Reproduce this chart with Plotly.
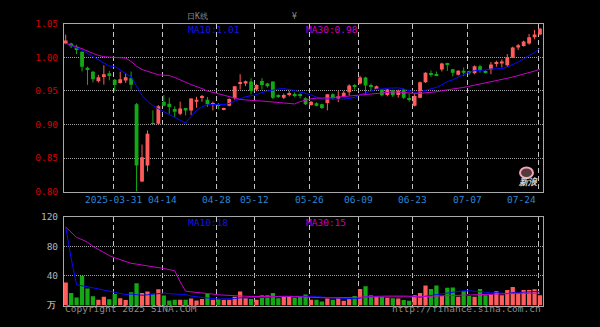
import numpy as np
import plotly.graph_objects as go

# ---------------- data ----------------
dates = [
    "2025-03-18", "2025-03-19", "2025-03-20", "2025-03-21", "2025-03-24", "2025-03-25",
    "2025-03-26", "2025-03-27", "2025-03-28", "2025-03-31",
    "2025-04-01", "2025-04-02", "2025-04-03", "2025-04-07", "2025-04-08", "2025-04-09",
    "2025-04-10", "2025-04-11", "2025-04-14", "2025-04-15", "2025-04-16", "2025-04-17",
    "2025-04-18", "2025-04-21", "2025-04-22", "2025-04-23", "2025-04-24", "2025-04-25",
    "2025-04-28", "2025-04-29", "2025-04-30",
    "2025-05-06", "2025-05-07", "2025-05-08", "2025-05-09", "2025-05-12", "2025-05-13",
    "2025-05-14", "2025-05-15", "2025-05-16", "2025-05-19", "2025-05-20", "2025-05-21",
    "2025-05-22", "2025-05-23", "2025-05-26", "2025-05-27", "2025-05-28", "2025-05-29",
    "2025-05-30",
    "2025-06-03", "2025-06-04", "2025-06-05", "2025-06-06", "2025-06-09", "2025-06-10",
    "2025-06-11", "2025-06-12", "2025-06-13", "2025-06-16", "2025-06-17", "2025-06-18",
    "2025-06-19", "2025-06-20", "2025-06-23", "2025-06-24", "2025-06-25", "2025-06-26",
    "2025-06-27", "2025-06-30",
    "2025-07-01", "2025-07-02", "2025-07-03", "2025-07-04", "2025-07-07", "2025-07-08",
    "2025-07-09", "2025-07-10", "2025-07-11", "2025-07-14", "2025-07-15", "2025-07-16",
    "2025-07-17", "2025-07-18", "2025-07-21", "2025-07-22", "2025-07-23", "2025-07-24",
]

opens = [
    1.0206, 1.0206, 1.0158, 1.0085, 0.9846, 0.9787, 0.9643, 0.9724, 0.9763, 0.9666,
    0.9619, 0.9657, 0.9690, 0.9300, 0.8150, 0.8390, 0.9020, 0.9010, 0.9340, 0.9310,
    0.9230, 0.9160, 0.9233, 0.9210, 0.9340, 0.9400, 0.9370, 0.9300, 0.9300, 0.9220,
    0.9280, 0.9390, 0.9610, 0.9610, 0.9640, 0.9520, 0.9650, 0.9610, 0.9640, 0.9430,
    0.9400, 0.9450, 0.9450, 0.9450, 0.9390, 0.9290, 0.9315, 0.9300, 0.9320, 0.9450,
    0.9385, 0.9415, 0.9480, 0.9585, 0.9610, 0.9700, 0.9580, 0.9542, 0.9520, 0.9440,
    0.9510, 0.9440, 0.9520, 0.9387, 0.9280, 0.9400, 0.9630, 0.9763, 0.9740, 0.9820,
    0.9912, 0.9825, 0.9740, 0.9800, 0.9790, 0.9763, 0.9870, 0.9790, 0.9820, 0.9910,
    0.9910, 0.9883, 0.9994, 1.0149, 1.0172, 1.0207, 1.0300, 1.0340,
]
highs = [
    1.0340, 1.0220, 1.0190, 1.0090, 0.9860, 0.9800, 0.9740, 0.9883, 0.9800, 0.9680,
    0.9787, 0.9760, 0.9787, 0.9320, 0.8700, 0.8910, 0.9210, 0.9290, 0.9440, 0.9400,
    0.9270, 0.9340, 0.9245, 0.9390, 0.9413, 0.9440, 0.9410, 0.9340, 0.9320, 0.9250,
    0.9390, 0.9570, 0.9750, 0.9655, 0.9690, 0.9600, 0.9690, 0.9620, 0.9640, 0.9450,
    0.9460, 0.9500, 0.9480, 0.9465, 0.9405, 0.9350, 0.9330, 0.9310, 0.9450, 0.9465,
    0.9500, 0.9500, 0.9600, 0.9600, 0.9725, 0.9710, 0.9610, 0.9580, 0.9530, 0.9530,
    0.9520, 0.9520, 0.9535, 0.9460, 0.9460, 0.9640, 0.9780, 0.9805, 0.9790, 0.9920,
    0.9920, 0.9830, 0.9810, 0.9850, 0.9800, 0.9880, 0.9890, 0.9810, 0.9930, 0.9950,
    0.9970, 1.0050, 1.0160, 1.0200, 1.0250, 1.0350, 1.0410, 1.0440,
]
lows = [
    1.0197, 1.0140, 1.0052, 0.9790, 0.9590, 0.9627, 0.9627, 0.9594, 0.9660, 0.9500,
    0.9610, 0.9620, 0.9520, 0.8000, 0.8140, 0.8300, 0.9000, 0.9000, 0.9270, 0.9160,
    0.9110, 0.9140, 0.9136, 0.9140, 0.9250, 0.9340, 0.9260, 0.9210, 0.9230, 0.9210,
    0.9270, 0.9370, 0.9520, 0.9570, 0.9450, 0.9500, 0.9520, 0.9550, 0.9380, 0.9395,
    0.9380, 0.9420, 0.9410, 0.9390, 0.9290, 0.9280, 0.9270, 0.9230, 0.9210, 0.9370,
    0.9335, 0.9410, 0.9430, 0.9520, 0.9597, 0.9450, 0.9510, 0.9530, 0.9420, 0.9420,
    0.9410, 0.9400, 0.9380, 0.9340, 0.9270, 0.9390, 0.9620, 0.9710, 0.9720, 0.9790,
    0.9800, 0.9718, 0.9730, 0.9720, 0.9740, 0.9750, 0.9770, 0.9760, 0.9750, 0.9860,
    0.9850, 0.9860, 0.9990, 1.0110, 1.0160, 1.0190, 1.0270, 1.0330,
]
closes = [
    1.0254, 1.0165, 1.0110, 0.9860, 0.9811, 0.9676, 0.9705, 0.9749, 0.9724, 0.9594,
    0.9676, 0.9705, 0.9594, 0.8390, 0.8510, 0.8860, 0.9010, 0.9270, 0.9280, 0.9260,
    0.9190, 0.9240, 0.9210, 0.9387, 0.9370, 0.9420, 0.9300, 0.9320, 0.9280, 0.9240,
    0.9380, 0.9570, 0.9630, 0.9643, 0.9500, 0.9590, 0.9590, 0.9570, 0.9400, 0.9420,
    0.9440, 0.9470, 0.9440, 0.9425, 0.9300, 0.9340, 0.9280, 0.9245, 0.9450, 0.9390,
    0.9420, 0.9474, 0.9580, 0.9570, 0.9700, 0.9580, 0.9560, 0.9570, 0.9435, 0.9520,
    0.9435, 0.9507, 0.9400, 0.9375, 0.9425, 0.9630, 0.9770, 0.9745, 0.9730, 0.9908,
    0.9900, 0.9773, 0.9800, 0.9770, 0.9770, 0.9869, 0.9810, 0.9780, 0.9893, 0.9920,
    0.9940, 1.0004, 1.0149, 1.0182, 1.0236, 1.0300, 1.0340, 1.0428,
]
volumes = [  # 万
    31, 17, 11, 40, 23, 12.5, 8, 12, 8.5, 15.5,
    10, 7.5, 18, 30, 17, 19, 16, 22, 13.5, 7,
    8, 8, 8, 9.5, 7, 9, 16, 8, 8.5, 8,
    8, 12, 19, 10, 9, 8, 14, 14, 17, 10,
    12, 13, 11, 13, 15, 8, 8, 5.5, 9.5, 8,
    10, 6.5, 9, 13, 22.5, 26, 14, 12, 12, 10.5,
    10, 9.5, 7.5, 6.5, 14, 17, 27, 22.5, 27, 13,
    24, 24.5, 12, 19.5, 13, 12, 22.5, 14, 15, 19.5,
    14, 21, 25, 16.5, 21, 21, 22, 14,
]

# moving-average values for the first days (history before the window)
ma10_head = [1.021, 1.018, 1.0145, 1.011, 1.006, 1.001, 0.996, 0.991, 0.987]
ma30_head = [1.021, 1.019, 1.016, 1.013, 1.009, 1.006, 1.003, 1.001, 1.0005, 1.000,
             0.9995, 0.999, 0.994, 0.987, 0.982, 0.979, 0.976, 0.974, 0.9735, 0.973,
             0.970, 0.966, 0.963, 0.9595, 0.957, 0.9535, 0.950, 0.948, 0.946]
vol_ma10_head = [106, 64, 28, 27, 26, 24, 22.5, 21, 18.5]
vol_ma30_head = [106, 99, 92, 89, 85.5, 80, 75.5, 71, 67.5, 64.5,
                 62, 59.5, 57, 56, 55, 53.5, 52, 51, 50, 48.5,
                 47, 32, 19.5, 18.5, 18, 17.5, 16.5, 15.5, 14.5]

label_dates = ["2025-03-31", "2025-04-14", "2025-04-28", "2025-05-12", "2025-05-26",
               "2025-06-09", "2025-06-23", "2025-07-07", "2025-07-24"]
label_texts = ["2025-03-31", "04-14", "04-28", "05-12", "05-26", "06-09", "06-23", "07-07", "07-24"]
price_ticks = [0.80, 0.85, 0.90, 0.95, 1.00, 1.05]
vol_ticks = [40, 80, 120]


def moving_average(values, n, head):
    vals = np.asarray(values, dtype=float)
    tail = [vals[i - n + 1:i + 1].mean() for i in range(n - 1, len(vals))]
    return list(head) + tail


ma10 = moving_average(closes, 10, ma10_head)
ma30 = moving_average(closes, 30, ma30_head)
vma10 = moving_average(volumes, 10, vol_ma10_head)
vma30 = moving_average(volumes, 30, vol_ma30_head)

# ---------------- styling ----------------
UP = "#ff5c5c"
DOWN = "#14a814"
BLUE = "#0a0aff"
MAG = "#c800c8"
FRAME = "#a8a8a8"
FONT = "DejaVu Sans Mono"
GRID_SHIFT = -0.3

x = np.arange(len(dates))
o = np.array(opens); c = np.array(closes); h = np.array(highs); l = np.array(lows)
up = c >= o
colors = [UP if u else DOWN for u in up]

fig = go.Figure()

# wicks
for mask, col in ((up, UP), (~up, DOWN)):
    wx, wy = [], []
    for i in np.where(mask)[0]:
        wx += [x[i], x[i], None]
        wy += [l[i], h[i], None]
    fig.add_trace(go.Scatter(x=wx, y=wy, mode="lines", line=dict(color=col, width=1),
                             xaxis="x", yaxis="y", hoverinfo="skip"))

# bodies
fig.add_trace(go.Bar(x=x, y=c - o, base=o, width=0.7, marker=dict(color=colors, line=dict(width=0)),
                     xaxis="x", yaxis="y", hoverinfo="skip"))
fig.add_trace(go.Scatter(x=x, y=ma10, mode="lines", line=dict(color=BLUE, width=1),
                         xaxis="x", yaxis="y", hoverinfo="skip"))
fig.add_trace(go.Scatter(x=x, y=ma30, mode="lines", line=dict(color=MAG, width=1),
                         xaxis="x", yaxis="y", hoverinfo="skip"))

# volume
fig.add_trace(go.Bar(x=x, y=volumes, width=0.78, marker=dict(color=colors, line=dict(width=0)),
                     xaxis="x2", yaxis="y2", hoverinfo="skip"))
fig.add_trace(go.Scatter(x=x, y=vma10, mode="lines", line=dict(color=BLUE, width=1),
                         xaxis="x2", yaxis="y2", hoverinfo="skip"))
fig.add_trace(go.Scatter(x=x, y=vma30, mode="lines", line=dict(color=MAG, width=1),
                         xaxis="x2", yaxis="y2", hoverinfo="skip"))

grid_pos = [dates.index(d) + GRID_SHIFT for d in label_dates]
xcommon = dict(range=[-0.31, len(dates) - 1 + 0.55], domain=[64 / 600, 543 / 600],
               showticklabels=False, tickvals=grid_pos, showgrid=True,
               gridcolor="#c4c4c4", griddash="5px,3px", gridwidth=1,
               showline=True, mirror=True, linecolor=FRAME, linewidth=1,
               zeroline=False, ticks="", fixedrange=True)

fig.update_layout(
    width=600, height=327, margin=dict(l=0, r=0, t=0, b=0),
    paper_bgcolor="#000000", plot_bgcolor="#000000",
    showlegend=False, hovermode=False, barmode="overlay",
    font=dict(family=FONT, size=9, color="#a0a0a0"),
    xaxis=dict(anchor="y", **xcommon),
    xaxis2=dict(anchor="y2", matches="x", **xcommon),
    yaxis=dict(domain=[(327 - 192) / 327, (327 - 18.5) / 327], range=[0.80, 1.05],
               tickvals=price_ticks, ticktext=[f"{v:.2f}" for v in price_ticks],
               tickfont=dict(color="#d40000", size=9.5, family=FONT),
               showgrid=True, gridcolor="#a0a0a0", griddash="1px,1px", gridwidth=1,
               showline=True, mirror=True, linecolor=FRAME, linewidth=1,
               zeroline=False, ticks="outside", ticklen=3, tickcolor="rgba(0,0,0,0)",
               fixedrange=True),
    yaxis2=dict(domain=[17 / 327, 109 / 327], range=[0, 120],
                tickvals=vol_ticks, ticktext=[str(v) for v in vol_ticks],
                tickfont=dict(color="#b4b4b4", size=9.5, family=FONT),
                showgrid=True, gridcolor="#a0a0a0", griddash="1px,1px", gridwidth=1,
                showline=True, mirror=True, linecolor=FRAME, linewidth=1,
                zeroline=False, ticks="outside", ticklen=3, tickcolor="rgba(0,0,0,0)",
                fixedrange=True),
)

ann = []
for d, t in zip(label_dates, label_texts):
    last = d == label_dates[-1]
    ann.append(dict(x=dates.index(d) + GRID_SHIFT, xref="x", y=(327 - 200.5) / 327, yref="paper",
                    text=t, showarrow=False, xanchor="right" if last else "center", yanchor="middle",
                    font=dict(color="#2b86d6", size=9.5, family=FONT)))


def ptxt(px, py, text, color, anchor="left", size=9.5):
    return dict(x=px / 600, y=(327 - py) / 327, xref="paper", yref="paper", text=text,
                showarrow=False, xanchor=anchor, yanchor="middle",
                font=dict(color=color, size=size, family=FONT))


ann += [
    ptxt(186, 24, "MA10:1.01", "#1414e6"),
    ptxt(304, 24, "MA30:0.98", MAG),
    ptxt(186, 224, "MA10:18", "#1414e6"),
    ptxt(304, 224, "MA30:15", MAG),
    ptxt(185, 11, "日K线", "#8a8a8a", size=8),
    ptxt(290, 11, "¥", "#8a8a8a", size=8),
    ptxt(58, 309, "万", "#e8e8e8", anchor="right", size=9),
    ptxt(63, 313.5, "Copyright 2025 SINA.COM", "#8c8c8c"),
    ptxt(543, 313.5, "http://finance.sina.com.cn", "#8c8c8c", anchor="right"),
    ptxt(528, 182, "<b><i>新浪</i></b>", "#d0d0d0", anchor="center", size=9),
]
fig.update_layout(annotations=ann)

fig.add_shape(type="circle", xref="paper", yref="paper",
              x0=520 / 600, x1=533 / 600, y0=(327 - 178) / 327, y1=(327 - 167) / 327,
              line=dict(color="#f2a6b4", width=2), fillcolor="rgba(242,166,180,0.35)")

fig.write_html("out.html")
